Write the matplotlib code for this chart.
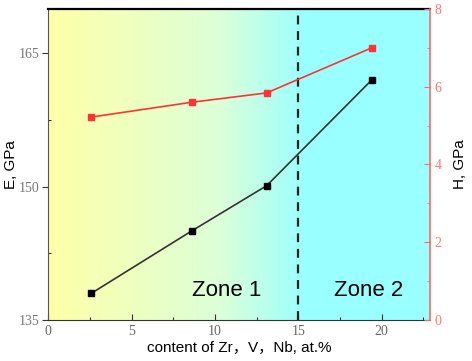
import numpy as np
import matplotlib
matplotlib.use('Agg')
import matplotlib.pyplot as plt
from matplotlib.colors import LinearSegmentedColormap

content = [2.6, 8.6, 13.1, 19.4]
modulus = [138.0, 145.0, 150.1, 162.0]
hardness = [5.22, 5.6, 5.84, 7.0]
zone_labels = ['Zone 1', 'Zone 2']

serif = 'Liberation Serif'
sans = ['Liberation Sans', 'Noto Sans CJK SC']

fig = plt.figure(figsize=(4.72, 3.61), dpi=100)
ax = fig.add_axes([0.102, 0.114, 0.809, 0.861])

# background gradient yellow -> cyan
cmap = LinearSegmentedColormap.from_list('bg', [(0, '#ffffa8'), (0.45, '#dcffd8'), (0.68, '#99ffff'), (1, '#99ffff')])
grad = np.linspace(0, 1, 256).reshape(1, -1)
ax.imshow(grad, extent=[0, 22.9, 135, 170], aspect='auto', cmap=cmap, zorder=0)

ax.plot(content, modulus, color='#333333', lw=1.2, marker='s', ms=5,
        mfc='black', mec='black', zorder=3)
ax.axvline(15, color='#222222', lw=1.6, ls=(0, (4, 3)), zorder=2)
ax.set_xlim(0, 22.9)
ax.set_ylim(135, 170)
ax.set_xticks([0, 5, 10, 15, 20])
ax.set_xticks([2.5, 7.5, 12.5, 17.5, 22.5], minor=True)
ax.set_yticks([135, 150, 165])
ax.set_yticks([142.5, 157.5], minor=True)
ax.tick_params(axis='x', direction='in', length=4, colors='#333333', labelcolor='#666666')
ax.tick_params(axis='x', which='minor', direction='in', length=2.5)
ax.tick_params(axis='y', direction='out', length=4, pad=2, colors='#333333', labelcolor='#777777')
ax.tick_params(axis='y', which='minor', direction='in', length=2.5)
for lab in ax.get_xticklabels() + ax.get_yticklabels():
    lab.set_family(serif)
    lab.set_fontsize(10)
ax.set_xlabel('content of Zr，V，Nb, at.%', family=sans, fontsize=11, labelpad=2)
ax.set_ylabel('E, GPa', family=sans, fontsize=11, labelpad=1)
ax.spines['top'].set_linewidth(1.6)
ax.spines['left'].set_color('#555555')
ax.spines['bottom'].set_color('#333333')
ax.spines['right'].set_visible(False)

ax.text(10.7, 138.3, zone_labels[0], family=sans, fontsize=16, ha='center', va='center')
ax.text(19.2, 138.3, zone_labels[1], family=sans, fontsize=16, ha='center', va='center')

ax2 = ax.twinx()
ax2.plot(content, hardness, color='#ff3333', lw=1.2, marker='s', ms=5,
         mfc='#ff3333', mec='#ff3333', zorder=3)
ax2.set_ylim(0, 8)
ax2.set_yticks([0, 2, 4, 6, 8])
ax2.set_yticks([1, 3, 5, 7], minor=True)
ax2.tick_params(axis='y', direction='in', length=4, colors='#ff6666', labelcolor='#ff7777')
ax2.tick_params(axis='y', which='minor', direction='in', length=2.5, colors='#ff6666')
for lab in ax2.get_yticklabels():
    lab.set_family(serif)
    lab.set_fontsize(10)
ax2.set_ylabel('H, GPa', family=sans, fontsize=11, labelpad=8)
ax2.spines['right'].set_color('#ff6666')
ax2.spines['right'].set_linewidth(1.2)
for s in ['top', 'left', 'bottom']:
    ax2.spines[s].set_visible(False)

plt.savefig('out.png', dpi=100)
